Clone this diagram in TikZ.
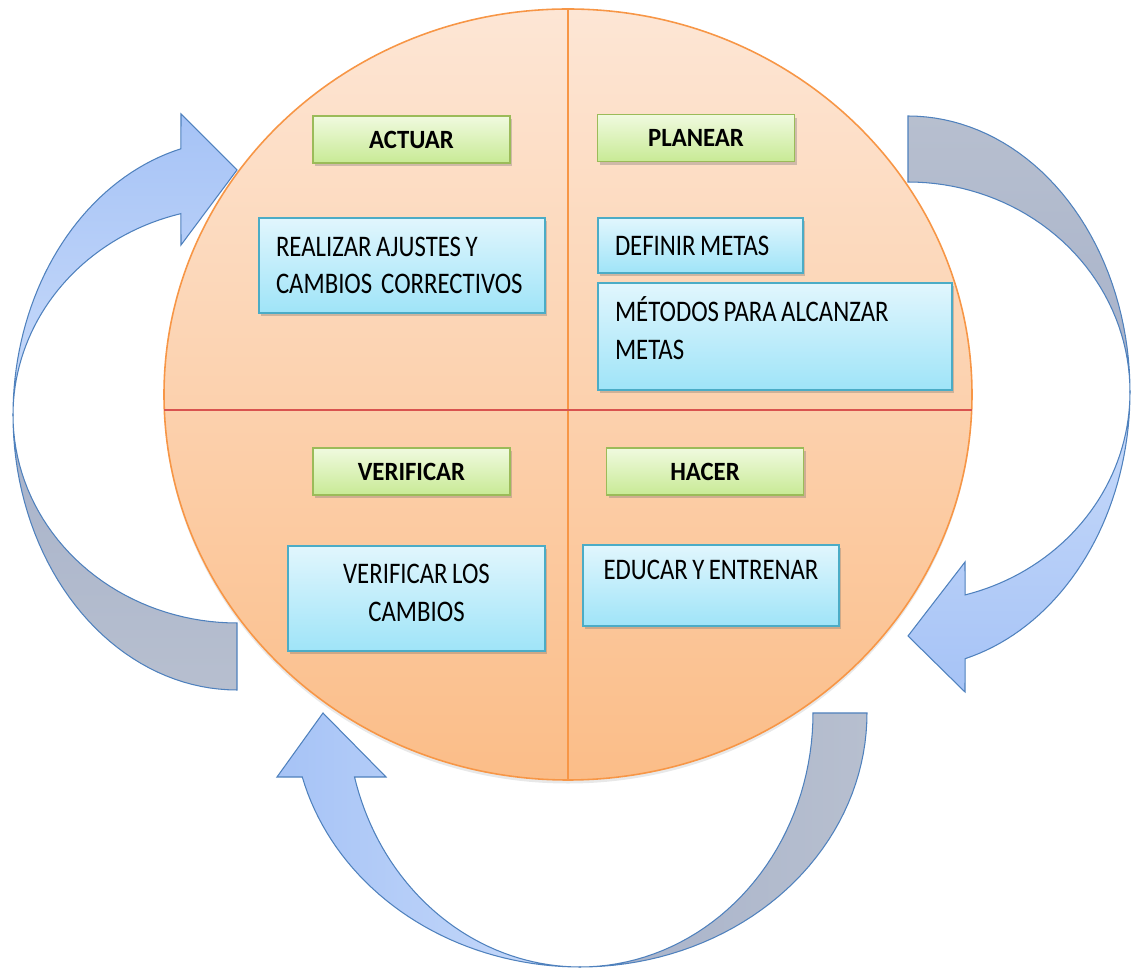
\documentclass[tikz,border=0pt]{standalone}
\usepackage{fontspec}
\setmainfont{Carlito}[FakeStretch=0.83, WordSpace=0.8]
\newfontfamily\lblfont{Carlito}[FakeStretch=0.94]
\usetikzlibrary{shapes.geometric, shadows}
\hyphenpenalty=10000
\exhyphenpenalty=10000

\definecolor{discline}{HTML}{F79646}
\definecolor{disctop}{HTML}{FDE6D5}
\definecolor{discbot}{HTML}{FBBD88}
\definecolor{midline}{HTML}{D9534F}
\definecolor{lblline}{HTML}{9BBB59}
\definecolor{lbltop}{HTML}{F0FADF}
\definecolor{lblbot}{HTML}{C8EA95}
\definecolor{taskline}{HTML}{4BACC6}
\definecolor{tasktop}{HTML}{E1F6FD}
\definecolor{taskbot}{HTML}{9FE4F8}
\definecolor{arrline}{HTML}{4F81BD}
\definecolor{fronta}{HTML}{A6C3F6}
\definecolor{frontb}{HTML}{C9DBFA}
\definecolor{backa}{HTML}{A7B2CA}
\definecolor{backb}{HTML}{B7BFCF}

\begin{document}
\begin{tikzpicture}[x=0.02cm, y=-0.02cm]

\newlength{\px}
\setlength{\px}{0.02cm}

\useasboundingbox (0,0) rectangle (1134,972);

% styles
\pgfkeys{/box/.style={draw, line width=0.6pt, inner sep=0, drop shadow={shadow xshift=1.2pt, shadow yshift=-1.8pt, opacity=0.3, fill=black!60}}} % base style for boxes
\pgfkeys{/lbl/.style={/box, draw=lblline, top color=lbltop, bottom color=lblbot, minimum width=197\px, minimum height=47\px, font=\lblfont\bfseries\fontsize{15}{18}\selectfont}} % phase names
\pgfkeys{/task/.style={/box, draw=taskline, top color=tasktop, bottom color=taskbot, inner xsep=17\px, font=\fontsize{17}{21.5}\selectfont}} % tasks of a phase
\pgfkeys{/front/.style={draw=arrline, line width=0.6pt}} % front face of a curved arrow
\pgfkeys{/back/.style={draw=arrline, line width=0.6pt}} % back face of a curved arrow

% the disc and its quarters
\node[ellipse, draw=discline, line width=0.9pt, top color=disctop, bottom color=discbot, minimum width=808\px, minimum height=771\px, inner sep=0, drop shadow={shadow xshift=0pt, shadow yshift=-2pt, opacity=0.15, fill=black!60}] (disc) at (568,394.5) {};
\coordinate (hl) at (164.3,410);
\coordinate (hr) at (971.7,410);
\draw[discline, line width=0.9pt] (disc.north) -- (disc.south);
\draw[midline, line width=0.9pt] (hl) -- (hr);

% phase names
\foreach \n/\x/\y/\t in {actuar/411.5/139.5/ACTUAR, planear/696/138/PLANEAR, verificar/411.5/471.5/VERIFICAR, hacer/705/471.5/HACER} {
\node[/lbl] (\n) at (\x,\y) {\t};
}

% tasks
\node[/task, minimum width=286\px, minimum height=95\px, text width=252\px, align=flush left] (ajustes) at (402,265.5) {REALIZAR AJUSTES Y\\ CAMBIOS~~CORRECTIVOS};
\node[/task, minimum width=205\px, minimum height=55\px, text width=171\px, align=flush left] (definir) at (700.5,245.5) {DEFINIR METAS};
\node[/task, minimum width=354\px, minimum height=107\px, text width=320\px, align=flush left, text depth=54\px] (metodos) at (775,336.5) {MÉTODOS PARA ALCANZAR\\ METAS};
\node[/task, minimum width=257\px, minimum height=105\px, text width=223\px, align=flush center, text depth=49\px] (cambios) at (416.5,598.5) {VERIFICAR LOS\\ CAMBIOS};
\node[/task, minimum width=256\px, minimum height=81\px, text width=222\px, align=flush center, text depth=31\px] (educar) at (711,585.5) {EDUCAR~Y~ENTRENAR};

% left arrow: from VERIFICAR up to ACTUAR
\draw[/back, top color=backa, bottom color=backb] plot[domain=90:180, samples=40] ({237+224*cos(\x)},{415+275*sin(\x)}) -- plot[domain=180:90, samples=40] ({237+224*cos(\x)},{415+208*sin(\x)}) -- cycle;
\draw[/front, top color=fronta, bottom color=frontb] plot[domain=180:255.5, samples=40] ({237+224*cos(\x)},{415+275*sin(\x)}) -- (181,114) -- (237,170) -- (181,245) -- plot[domain=255.5:180, samples=40] ({237+224*cos(\x)},{415+208*sin(\x)}) -- cycle;

% right arrow: from PLANEAR down to HACER
\draw[/back, top color=backb, bottom color=backa] plot[domain=270:360, samples=40] ({908+222*cos(\x)},{392+276*sin(\x)}) -- plot[domain=360:270, samples=40] ({908+222*cos(\x)},{392+210*sin(\x)}) -- cycle;
\draw[/front, top color=frontb, bottom color=fronta] plot[domain=0:75.1, samples=40] ({908+222*cos(\x)},{392+276*sin(\x)}) -- (965,692) -- (908,636) -- (965,562) -- plot[domain=75.1:0, samples=40] ({908+222*cos(\x)},{392+210*sin(\x)}) -- cycle;

% bottom arrow: from HACER round to VERIFICAR
\draw[/back, left color=backa, right color=backb] plot[domain=0:90, samples=40] ({580+287*cos(\x)},{713+254*sin(\x)}) -- plot[domain=90:0, samples=40] ({580+233*cos(\x)},{713+254*sin(\x)}) -- cycle;
\draw[/front, left color=fronta, right color=frontb] plot[domain=90:165.4, samples=40] ({580+287*cos(\x)},{713+254*sin(\x)}) -- (277,777) -- (323,713) -- (386,777) -- plot[domain=165.4:90, samples=40] ({580+233*cos(\x)},{713+254*sin(\x)}) -- cycle;

\end{tikzpicture}
\end{document}
